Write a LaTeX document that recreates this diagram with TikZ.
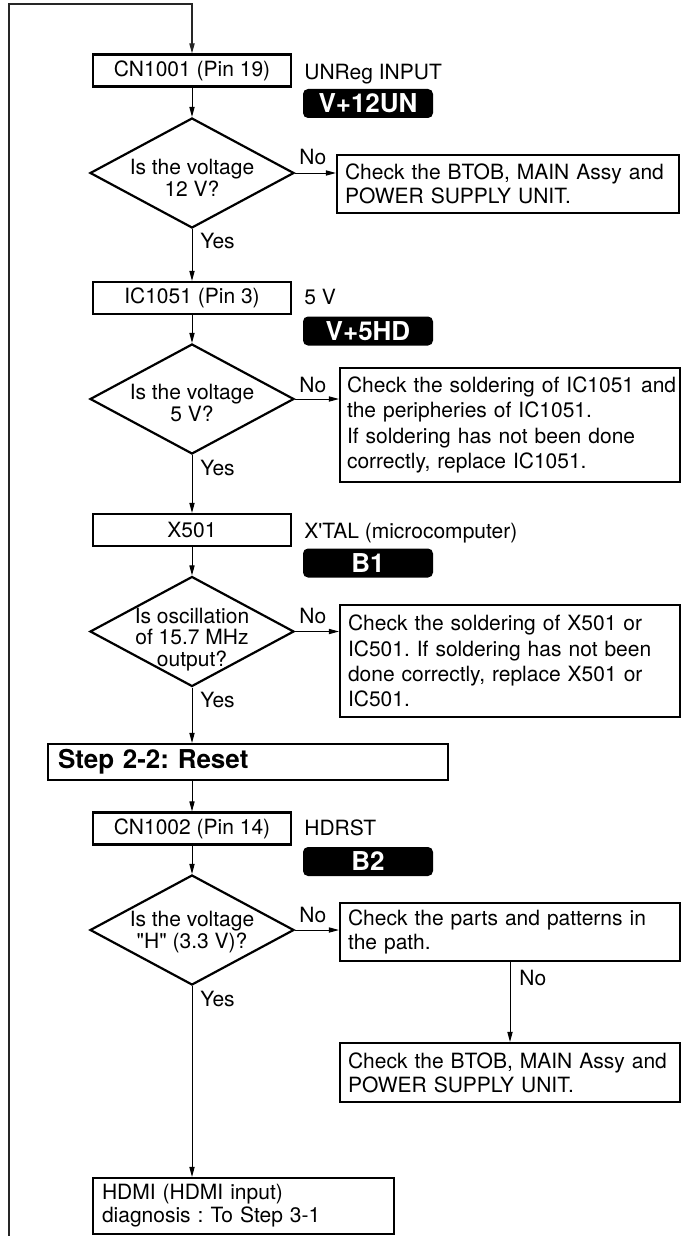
\documentclass[tikz,border=0pt]{standalone}
\usepackage{fontspec}
\setmainfont{TeX Gyre Heros}
\usetikzlibrary{arrows.meta,shapes.geometric}
\frenchspacing
\begin{document}
\begin{tikzpicture}[x=0.5pt,y=-0.5pt,
  every node/.style={inner sep=0pt},
  txt/.style={font=\fontsize{10.5}{12}\selectfont},
  proc/.style={draw, line width=1.1pt, minimum width=99pt, minimum height=16pt, txt},
  dia/.style={draw, diamond, line width=1.1pt, minimum width=102pt, minimum height=55pt, aspect=1.85},
  dtext/.style={align=center, font=\fontsize{10.5}{11}\selectfont},
  chk/.style={draw, line width=1.1pt, align=left, inner xsep=4pt, minimum width=170pt, text width=162pt, txt},
  tag/.style={fill=black, rounded corners=2.5pt, minimum width=65pt, minimum height=14.5pt, text=white, font=\bfseries\fontsize{13}{13}\selectfont},
  side/.style={anchor=base west, txt},
  conn/.style={line width=0.5pt, -{Triangle[length=5pt,width=2.6pt]}},
  loopline/.style={line width=0.6pt, black!85, -{Triangle[length=5pt,width=2.6pt]}},
]
\path[fill=white,use as bounding box] (0,0) rectangle (681,1236);

% process boxes
\node[proc] (cn1001) at (192,70.5) {CN1001 (Pin 19)};
\node[proc] (ic1051) at (192,298) {IC1051 (Pin 3)};
\node[proc] (x501) at (192,530) {X501};
\node[proc] (cn1002) at (192,828.5) {CN1002 (Pin 14)};

% side labels and tags
\node[side] (s1) at (304,79.3) {UNReg INPUT};
\node[side] (s2) at (304,304) {5 V};
\node[side] (s3) at (304,538) {X\textquotesingle TAL (microcomputer)};
\node[side] (s4) at (304,835) {HDRST};
\node[tag] (t1) at (368,103.5) {V+12UN};
\node[tag] (t2) at (368,331) {V+5HD};
\node[tag] (t3) at (368,563) {B1};
\node[tag] (t4) at (368,861.5) {B2};

% decisions
\node[dia] (d1) at (192,173) {};
\node[dtext] (q1) at (192,178) {Is the voltage\\12 V?};
\node[dia] (d2) at (192,399) {};
\node[dtext] (q2) at (192,403) {Is the voltage\\5 V?};
\node[dia] (d3) at (192,631.5) {};
\node[dtext, font=\fontsize{10.5}{10.75}\selectfont] (q3) at (192,639.5) {Is oscillation\\of 15.7 MHz\\output?};
\node[dia] (d4) at (192,930) {};
\node[dtext] (q4) at (192,932) {Is the voltage\\\textquotedbl H\textquotedbl{} (3.3 V)?};

% check boxes
\node[chk, minimum width=171pt, text width=163pt, minimum height=29pt] (c1) at (508,184)
  {Check the BTOB, MAIN Assy and\\POWER SUPPLY UNIT.};
\node[chk, inner xsep=3.5pt, text width=163pt, minimum height=57pt, font=\fontsize{10.5}{12.8}\selectfont] (c2) at (510,425)
  {\mbox{Check the soldering of IC1051 and}\\the peripheries of IC1051.\\If soldering has not been done\\correctly, replace IC1051.};
\node[chk, minimum height=56pt, font=\fontsize{10.5}{12.6}\selectfont] (c3) at (510,661)
  {Check the soldering of X501 or\\IC501. If soldering has not been\\done correctly, replace X501 or\\IC501.};
\node[chk, minimum height=29pt] (c4) at (510,932)
  {Check the parts and patterns in\\the path.};
\node[chk, minimum height=29.5pt] (c5) at (510,1072.5)
  {Check the BTOB, MAIN Assy and\\POWER SUPPLY UNIT.};

% step and final boxes
\node[draw, line width=1.1pt, minimum width=200pt, text width=190pt, inner xsep=5pt, minimum height=18pt, align=left, font=\bfseries\fontsize{13}{13}\selectfont] (step) at (248,762) {Step 2-2: Reset};
\node[draw, line width=1.1pt, minimum width=150.5pt, text width=141.5pt, inner xsep=4.5pt, minimum height=28pt, align=left, font=\fontsize{10.5}{11.5}\selectfont] (hdmi) at (243.5,1206) {HDMI (HDMI input)\\diagnosis : To Step 3-1};

% yes / no labels
\node[side] (n1) at (299,164) {No};
\node[side] (n2) at (299,392) {No};
\node[side] (n3) at (299,623) {No};
\node[side] (n4) at (299,922) {No};
\node[side] (n5) at (519,985) {No};
\node[side] (y1) at (200,248) {Yes};
\node[side] (y2) at (200,475) {Yes};
\node[side] (y3) at (200,707) {Yes};
\node[side] (y4) at (200,1006) {Yes};

% connectors
\coordinate (lp0) at (9,1236);
\coordinate (lp1) at (9,4);
\draw[loopline] (lp0) -- (lp1) -| (cn1001.north);
\draw[conn] (cn1001.south) -- (d1.north);
\draw[conn] (d1.south) -- (ic1051.north);
\draw[conn] (ic1051.south) -- (d2.north);
\draw[conn] (d2.south) -- (x501.north);
\draw[conn] (x501.south) -- (d3.north);
\draw[conn] (d3.south) -- (d3.south |- step.north);
\draw[conn] (step.south -| cn1002.north) -- (cn1002.north);
\draw[conn] (cn1002.south) -- (d4.north);
\draw[conn] (d4.south) -- (d4.south |- hdmi.north);
\draw[conn] (d1.east) -- (d1.east -| c1.west);
\draw[conn] (d2.east) -- (d2.east -| c2.west);
\draw[conn] (d3.east) -- (d3.east -| c3.west);
\draw[conn] (d4.east) -- (d4.east -| c4.west);
\draw[conn] (c4.south) -- (c5.north);
\end{tikzpicture}
\end{document}
